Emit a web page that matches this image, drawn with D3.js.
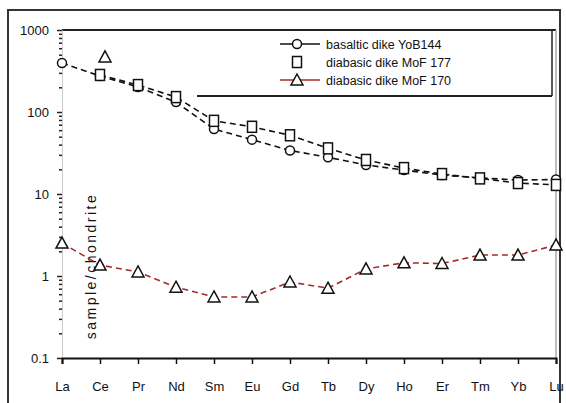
<!DOCTYPE html>
<html>
<head>
<meta charset="utf-8">
<script src="https://cdn.jsdelivr.net/npm/d3@7"></script>
<style>
  body { margin: 0; background: #fff; }
  svg { display: block; font-family: "Liberation Sans", Arial, sans-serif; }
</style>
</head>
<body>
<div id="chart"></div>
<script>
// REE pattern, chondrite normalised
var elements = ["La", "Ce", "Pr", "Nd", "Sm", "Eu", "Gd", "Tb", "Dy", "Ho", "Er", "Tm", "Yb", "Lu"];
var yob144 = [396, 275, 202, 132, 62, 46, 34, 28, 22.6, 19.6, 17, 15.7, 14.8, 15];
var mof177 = [null, 283, 213, 152, 78, 66, 52, 36, 26, 20.7, 17.5, 15.5, 13.6, 12.9];
var mof170 = [2.52, 1.36, 1.12, 0.73, 0.555, 0.555, 0.845, 0.71, 1.22, 1.45, 1.42, 1.8, 1.8, 2.39];
var strayPoints = [{ el: "Ce", v: 470 }];
var yTicks = [0.1, 1, 10, 100, 1000];
var seriesNames = ["basaltic dike YoB144", "diabasic dike MoF 177", "diabasic dike MoF 170"];

var W = 566, H = 403;
var pLeft = 62, pRight = 556, pTop = 30, pBottom = 358;

var svg = d3.select("#chart").append("svg").attr("width", W).attr("height", H);

// outer frame
svg.append("rect").attr("x", 8).attr("y", 10).attr("width", 552).attr("height", 400)
  .attr("fill", "none").attr("stroke", "#333").attr("stroke-width", 2);

var x = d3.scalePoint().domain(elements).range([pLeft, pRight]);
var y = d3.scaleLog().domain([0.1, 1000]).range([pBottom, pTop]);

// plot frame (top + right)
svg.append("line").attr("x1", pLeft).attr("x2", pRight).attr("y1", pTop).attr("y2", pTop)
  .attr("stroke", "#222").attr("stroke-width", 2);
svg.append("line").attr("x1", pRight).attr("x2", pRight).attr("y1", pTop).attr("y2", pBottom)
  .attr("stroke", "#aaa").attr("stroke-width", 1.5);

// y axis
var minor = [];
for (var e = -1; e < 3; e++) {
  for (var k = 2; k < 10; k++) minor.push(k * Math.pow(10, e));
}
var yMinor = svg.append("g").attr("transform", "translate(" + pLeft + ",0)")
  .call(d3.axisLeft(y).tickValues(minor).tickSize(3).tickFormat(""));
var yAxis = svg.append("g").attr("transform", "translate(" + pLeft + ",0)")
  .call(d3.axisLeft(y).tickValues(yTicks).tickSize(5).tickPadding(8)
    .tickFormat(function(d) { return d < 1 ? "0.1" : String(d); }));
yAxis.select(".domain").attr("stroke", "#ccc");
yMinor.select(".domain").remove();
svg.selectAll("g .tick line").attr("stroke", "#222").attr("stroke-width", 1.5);
yAxis.selectAll("text").attr("font-size", 13).attr("fill", "#111")
  .attr("font-family", "Liberation Sans, Arial, sans-serif");

// x axis
var xAxis = svg.append("g").attr("transform", "translate(0," + pBottom + ")")
  .call(d3.axisBottom(x).tickSize(6).tickPadding(18));
xAxis.select(".domain").attr("stroke", "#111").attr("stroke-width", 2);
xAxis.selectAll(".tick line").attr("stroke", "#111").attr("stroke-width", 1.5);
xAxis.selectAll("text").attr("font-size", 13).attr("fill", "#111")
  .attr("font-family", "Liberation Sans, Arial, sans-serif");

// y label (sits inside the plot in the original)
svg.append("text").attr("transform", "translate(96,266) rotate(-90)")
  .attr("text-anchor", "middle").attr("font-size", 14).attr("fill", "#111")
  .attr("letter-spacing", 2.5)
  .text("sample/chondrite");

function pts(vals) {
  return vals.map(function(v, i) { return { el: elements[i], v: v }; })
    .filter(function(d) { return d.v != null; });
}
var line = d3.line().x(function(d) { return x(d.el); }).y(function(d) { return y(d.v); });

var series = [
  { data: pts(yob144), color: "#111", marker: "circle" },
  { data: pts(mof177), color: "#111", marker: "square" },
  { data: pts(mof170), color: "#a52a2a", marker: "triangle" }
];

function drawMarker(g, type, cx, cy) {
  if (type === "circle") {
    g.append("circle").attr("cx", cx).attr("cy", cy).attr("r", 4.5)
      .attr("fill", "#fff").attr("stroke", "#111").attr("stroke-width", 1.5);
  } else if (type === "square") {
    g.append("rect").attr("x", cx - 4.5).attr("y", cy - 5.5).attr("width", 9).attr("height", 11)
      .attr("fill", "#fff").attr("stroke", "#111").attr("stroke-width", 1.5);
  } else {
    g.append("path").attr("d", "M" + cx + "," + (cy - 6) + "L" + (cx + 6) + "," + (cy + 5) + "L" + (cx - 6) + "," + (cy + 5) + "Z")
      .attr("fill", "#fff").attr("stroke", "#111").attr("stroke-width", 1.5);
  }
}

series.forEach(function(s) {
  svg.append("path").datum(s.data).attr("d", line).attr("fill", "none")
    .attr("stroke", s.color).attr("stroke-width", 1.6).attr("stroke-dasharray", "6,4");
});
series.forEach(function(s) {
  var g = svg.append("g");
  s.data.forEach(function(d) { drawMarker(g, s.marker, x(d.el), y(d.v)); });
});
strayPoints.forEach(function(d) { drawMarker(svg, "triangle", x(d.el) + 5, y(d.v)); });

// legend
var lg = svg.append("g");
lg.append("rect").attr("x", 197).attr("y", pTop + 1).attr("width", 355).attr("height", 65)
  .attr("fill", "#fff").attr("stroke", "none");
lg.append("line").attr("x1", 197).attr("x2", 552).attr("y1", 96).attr("y2", 96)
  .attr("stroke", "#222").attr("stroke-width", 2);
lg.append("line").attr("x1", 552).attr("x2", 552).attr("y1", pTop).attr("y2", 96)
  .attr("stroke", "#222").attr("stroke-width", 1.5);
var rowsY = [44, 62, 80];
series.forEach(function(s, i) {
  var ry = rowsY[i];
  if (i !== 1) {
    lg.append("line").attr("x1", 280).attr("x2", 320).attr("y1", ry).attr("y2", ry)
      .attr("stroke", s.color).attr("stroke-width", 1.6);
  }
  drawMarker(lg, s.marker, 297, ry);
  lg.append("text").attr("x", 326).attr("y", ry + 4.5).attr("font-size", 12.5).attr("fill", "#111")
    .text(seriesNames[i]);
});
</script>
</body>
</html>
